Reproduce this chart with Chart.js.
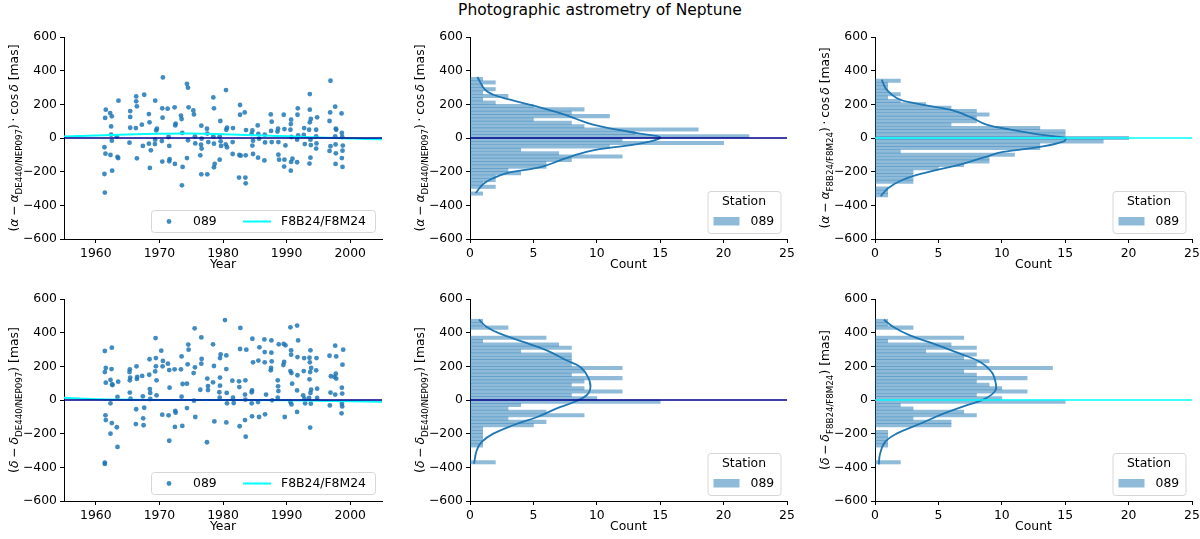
<!DOCTYPE html>
<html>
<head>
<meta charset="utf-8">
<title>Photographic astrometry of Neptune</title>
<script src="https://cdn.jsdelivr.net/npm/chart.js@4.4.1/dist/chart.umd.min.js"></script>
<style>
  body { margin: 0; background: #fff; width: 1200px; height: 539px; position: relative; overflow: hidden; }
  canvas { position: absolute; left: 0; top: 0; }
  #title { position: absolute; left: 0; top: 1px; width: 1200px; text-align: center;
           font: 15.5px "DejaVu Sans", sans-serif; line-height: 18px; color: #000; }
</style>
</head>
<body>
<div id="title">Photographic astrometry of Neptune</div>
<canvas id="raScatter" width="1200" height="539"></canvas>
<canvas id="raHist" width="1200" height="539"></canvas>
<canvas id="raF8Hist" width="1200" height="539"></canvas>
<canvas id="decScatter" width="1200" height="539"></canvas>
<canvas id="decHist" width="1200" height="539"></canvas>
<canvas id="decF8Hist" width="1200" height="539"></canvas>
<script>
// ---- data ----
const yearTicks = [1960, 1970, 1980, 1990, 2000]
const countTicks = [0, 5, 10, 15, 20, 25]
const masTicks = [-600, -400, -200, 0, 200, 400, 600]

// right ascension residuals, station 089
const raYears = [
  1961.57,1961.47,1961.36,1961.52,1961.36,1961.42, 1962.26,1962.52,1962.41,1962.41,1962.52,1962.31,1962.57,
  1963.57,1963.31,1963.41,1963.52, 1965.41,1965.41,1965.41,1965.30, 1966.35,1966.35,1966.46,1966.30,1966.46,
  1967.61,1967.24,1967.40, 1968.35,1968.45,1968.66,1968.50,1968.35, 1969.34,1969.61,1969.50,1969.34,1969.29,
  1970.55,1970.45,1970.50,1970.39,1970.45, 1971.29,1971.44,1971.55,1971.60,1971.55, 1972.39,1972.55,1972.49,1972.44,
  1973.39,1973.49,1973.60,1973.65,1973.54, 1974.33,1974.49,1974.59,1974.49,1974.33, 1975.33,1975.43,1975.59,1975.64,
  1976.59,1976.64,1976.43,1976.59,1976.54,1976.64, 1977.48,1977.53,1977.53,1977.69,
  1978.48,1978.58,1978.48,1978.58,1978.69,1978.58, 1979.58,1979.48,1979.63,1979.48,1979.69,
  1980.47,1980.52,1980.63,1980.63,1980.42, 1981.57,1981.52,1981.52, 1982.68,1982.68,1982.57,1982.52,1982.78,
  1983.41,1983.62,1983.57,1983.52,1983.57, 1984.62,1984.51,1984.72,1984.62,1984.72, 1985.46,1985.56,1985.51,1985.67,
  1986.56,1986.61,1986.51, 1987.51,1987.66,1987.56,1987.66, 1988.66,1988.56,1988.71,1988.82,1988.71,
  1989.55,1989.66,1989.66,1989.61,1989.82, 1990.71,1990.66,1990.60,1990.76,1990.92,1990.66,1990.71,
  1991.76,1991.71,1991.81,1991.65,1991.65, 1992.76,1992.70,1992.86,
  1993.65,1993.65,1993.81,1993.65,1993.54,1993.75,1993.81,1993.75,1993.60, 1994.80,1994.65,1994.65,1994.70,1994.65,
  1996.90,1996.85,1996.75,1996.90,1996.75, 1997.64,1997.74,1997.64,1997.70,1997.74,1997.70,1997.80,
  1998.64,1998.69,1998.74,1998.84,1998.79,1998.69,1998.79
]
const raResid = [
  168,119,-55,-93,-214,-324, 148,129,69,20,-16,-101,-194,
  222,10,-113,-119, 160,125,61,-28, 247,218,188,59,-121,
  257,79,-47, 142,93,-73,-178,-34, 222,55,45,-10,-36,
  360,176,121,-18,-140, 174,6,-47,-125,-138, 182,85,75,-154,
  133,113,30,-172,-281, 322,299,182,-14,-119, 164,140,10,-32,
  73,-4,-103,-216,-40,-63, 55,26,-216,-24,
  241,176,10,-34,-154,-174, 101,10,-20,-129,-47,
  285,49,61,-55,-38, 59,-24,-95, 196,138,-101,-235,-105,
  152,47,-103,-235,-269, 45,24,-16,-45,-95, 75,24,-117,-4,
  20,-26,-133, 140,97,42,-24, 55,38,-99,-129,-24,
  138,53,-129,-170,-44, 109,83,49,6,-123,-194,-142,
  176,138,16,-10,-144, 59,18,-36,
  261,168,113,93,49,-10,-42,-117,-152, 123,49,10,-32,-63,
  340,152,101,-49,-77, 186,55,10,-38,-91,-154,49,
  146,30,6,-45,-75,-119,-172
]

// declination residuals, station 089
const decYears = [
  1961.42,1961.57,1961.42,1961.57,1961.52,1961.57,1961.42,1961.42, 1962.52,1962.47,1962.31,1962.57,1962.62,1962.31,1962.52,1962.31,
  1963.52,1963.41,1963.31,1963.41, 1965.35,1965.30,1965.41,1965.35,1965.35,1965.46, 1966.40,1966.51,1966.46,1966.35,1966.30,
  1967.30,1967.40,1967.61,1967.45,1967.51, 1968.45,1968.40,1968.50,1968.56,1968.56, 1969.40,1969.45,1969.34,1969.45,1969.55,1969.55,
  1970.29,1970.55,1970.50,1970.45, 1971.34,1971.55,1971.60,1971.44,1971.55, 1972.39,1972.44,1972.49,1972.55,
  1973.49,1973.39,1973.65,1973.49,1973.60, 1974.54,1974.59,1974.44,1974.33,1974.33, 1975.54,1975.59,1975.38,1975.43,1975.64,
  1976.59,1976.64,1976.59,1976.43, 1977.53,1977.64,1977.64,1977.48, 1978.43,1978.58,1978.43,1978.64,
  1979.63,1979.53,1979.53,1979.53,1979.42,1979.48, 1980.31,1980.52,1980.52,1980.58,1980.63,1980.52, 1981.47,1981.57,1981.68,
  1982.73,1982.68,1982.52,1982.57,1982.62, 1983.67,1983.52,1983.46,1983.52,1983.46,1983.57,
  1984.62,1984.72,1984.57,1984.51,1984.51,1984.57, 1985.72,1985.56,1985.51,1985.67, 1986.51,1986.56,1986.56,1986.77,1986.61,
  1987.61,1987.61,1987.66,1987.56,1987.51,1987.72, 1988.77,1988.61,1988.66,1988.71,1988.61, 1989.55,1989.82,1989.50,1989.61,1989.71,
  1990.60,1990.71,1990.71,1990.60,1990.76,1990.87,1990.60,1990.76, 1991.65,1991.81,1991.71,1991.71,1991.65,1991.65,
  1992.76,1992.70,1992.60,1992.81,1992.91, 1993.75,1993.60,1993.65,1993.86,1993.70,1993.60,1993.86,1993.75,1993.54,1993.81,1993.70,
  1994.70,1994.65,1994.80,1994.80, 1996.75,1996.96,1996.90,1996.80, 1997.64,1997.80,1997.74,1997.80,1997.53,1997.64,
  1998.90,1998.79,1998.69,1998.74,1998.69,1998.74,1998.64
]
const decResid = [
  291,190,166,103,-91,-119,-372,-380, 311,184,119,93,89,-20,-137,-200,
  109,18,-162,-279, 182,166,133,117,44,8, 200,137,125,-55,-143,
  143,22,-46,-109,-150, 242,150,65,42,6, 368,249,170,200,117,28,
  293,232,200,-87, 216,178,73,-91,-242, 182,-160,-65,-75,
  259,182,95,20,-154, 329,299,212,97,-48, 426,194,160,-4,-101,
  372,244,216,61, 127,83,59,-251, 331,202,105,-127,
  271,249,133,85,46,14, 475,265,184,42,-20,-133, 115,14,-18,
  428,303,111,77,-156, 299,117,32,2,-119,-218,
  364,224,57,46,-20,-97, 313,234,-12,-101, 360,285,224,32,-85,
  354,281,230,190,176,-2, 331,117,81,53,14, 333,325,208,226,-101,
  432,295,269,172,160,97,-12,-26, 442,354,255,147,57,-71,
  249,172,28,8,-20, 295,251,224,190,166,123,61,42,12,-22,-164,
  249,176,67,12, 263,141,44,-32, 323,259,156,127,137,32,
  299,210,73,38,-22,-38,-79
]

// F8B24/F8M24 minus DE440/NEP097 along the observing span
const raOffsetYears = [1955, 1960, 1965, 1970, 1975, 1980, 1985, 1990, 1995, 2000, 2005]
const raOffset = [9, 15, 21, 25, 26, 22, 16, 10, 3, -3, -8]
const decOffsetYears = [1955, 1958, 1962, 1970, 1980, 1990, 1995, 2000, 2005]
const decOffset = [13, 8, 3, 0, 0, -2, -5, -8, -11]

// histograms (bin centre in mas, count)
const raBins = [350,330,310,290,270,250,230,210,190,170,150,130,110,90,70,50,30,10,
  -10,-30,-50,-70,-90,-110,-130,-150,-170,-190,-210,-230,-250,-270,-290,-310,-330]
const raCounts = [1,2,1,2,1,3,1,2,5,9,8,11,5,8,9,18,13,22,12,20,11,4,7,12,8,6,6,3,4,2,2,1,2,0,1]
const raF8Bins = [340,320,300,280,260,240,220,200,180,160,140,120,100,80,60,40,20,0,
  -20,-40,-60,-80,-100,-120,-140,-160,-180,-200,-220,-240,-260,-280,-300,-320,-340]
const raF8Counts = [2,1,1,1,2,1,2,4,6,8,9,8,8,6,13,15,15,20,18,13,13,2,11,9,9,7,5,3,3,3,3,0,1,1,1]
const decBins = [470,450,430,410,390,370,350,330,310,290,270,250,230,210,190,170,150,130,110,90,70,50,30,10,
  -10,-30,-50,-70,-90,-110,-130,-150,-170,-190,-210,-230,-250,-270,-290,-310,-330,-350,-370]
const decCounts = [1,1,3,0,0,6,1,7,8,4,8,8,8,8,12,9,8,12,9,8,9,12,8,10,15,4,3,6,9,3,6,5,1,1,1,1,1,1,0,0,0,0,2]
const decF8Counts = [1,1,3,0,0,7,1,6,8,4,8,7,9,8,14,7,8,12,8,9,10,12,8,10,15,2,3,7,8,3,6,6,0,1,1,1,1,1,0,0,0,0,2]

// kde curves (count, mas)
const raKdeCount = [0.58,1.18,1.84,3.16,5,7.1,8.4,9.7,11.6,13.4,15,13.9,11.6,9.7,8.4,7.1,5.8,4.5,2.9,1.84,1.05,0.45]
const raKdeMas = [362,287,257,228,192,148,113,79,50,26,4,-26,-53,-73,-99,-133,-168,-188,-208,-238,-273,-327]
const raF8KdeCount = [0.53,0.92,1.7,3.0,5.9,7.5,8.8,10.7,13.0,15,14.9,13.0,10.1,8.6,6.7,4.1,2.2,1.05,0.45]
const raF8KdeMas = [346,287,238,208,168,125,79,50,20,0,-20,-53,-83,-115,-158,-204,-248,-297,-346]
const decKdeCount = [0.71,1.32,2.37,4.2,6.05,7.6,8.7,9.3,9.5,9.2,8.2,6.8,5.3,3.4,1.84,0.92,0.53,0.32]
const decKdeMas = [477,434,394,345,295,236,196,137,77,28,-12,-51,-101,-150,-200,-249,-299,-378]
const decF8KdeCount = [0.71,1.45,2.76,4.6,6.7,8.3,9.2,9.5,9.5,8.7,7.2,5.4,3.55,1.7,0.8,0.4,0.3]
const decF8KdeMas = [477,434,384,335,275,226,166,107,57,8,-32,-81,-141,-200,-249,-319,-382]

// axis titles: [text, style]  i = italic, s = subscript, m = medium math space, t = thin math space
const raDeLabel = [['(', ''], ['α', 'i'], ['', 'm'], ['−', ''], ['', 'm'], ['α', 'i'], ['DE440/NEP097', 's'],
  [')', ''], ['', 'm'], ['·', ''], ['', 'm'], ['cos', ''], ['', 't'], ['δ', 'i'], [' [mas]', '']]
const raF8Label = [['(', ''], ['α', 'i'], ['', 'm'], ['−', ''], ['', 'm'], ['α', 'i'], ['F8B24/F8M24', 's'],
  [')', ''], ['', 'm'], ['·', ''], ['', 'm'], ['cos', ''], ['', 't'], ['δ', 'i'], [' [mas]', '']]
const decDeLabel = [['(', ''], ['δ', 'i'], ['', 'm'], ['−', ''], ['', 'm'], ['δ', 'i'], ['DE440/NEP097', 's'], [') [mas]', '']]
const decF8Label = [['(', ''], ['δ', 'i'], ['', 'm'], ['−', ''], ['', 'm'], ['δ', 'i'], ['F8B24/F8M24', 's'], [') [mas]', '']]

// ---- drawing ----
const FONT = '"DejaVu Sans", sans-serif'
const FS = 12.4
const W = 1200, H = 539
const Y_AXIS_W = 50, X_AXIS_H = 30
const BLUE = '#1f77b4'
const DOT = 'rgba(31,119,180,0.85)'
const BAR = 'rgba(31,119,180,0.5)'
const CYAN = '#00ffff'
const NAVY = '#00008b'

Chart.defaults.font.family = FONT
Chart.defaults.font.size = FS
Chart.defaults.color = '#000'

const fmt = v => v < 0 ? '\u2212' + Math.abs(v) : String(v)
const pts = (xs, ys) => xs.map((x, i) => ({ x, y: ys[i] }))

function axis(ticks, min, max, horizontal) {
  return {
    type: 'linear', min, max, offset: false,
    afterBuildTicks: s => { s.ticks = ticks.map(value => ({ value })) },
    afterFit: s => {
      if (horizontal) { s.height = X_AXIS_H; s.paddingLeft = 0; s.paddingRight = 0 }
      else { s.width = Y_AXIS_W; s.paddingTop = 0; s.paddingBottom = 0 }
    },
    grid: { drawOnChartArea: false, drawTicks: true, tickLength: 4, color: '#000', offset: false },
    border: { display: true, color: '#000', width: 1 },
    ticks: { padding: 3, color: '#000', autoSkip: false, maxRotation: 0, callback: fmt }
  }
}

function roundBox(ctx, x, y, w, h) {
  ctx.beginPath()
  ctx.roundRect(x + 0.5, y + 0.5, w, h, 3)
  ctx.fillStyle = 'rgba(255,255,255,0.8)'
  ctx.fill()
  ctx.strokeStyle = '#d6d6d6'
  ctx.lineWidth = 1
  ctx.stroke()
}

function drawYTitle(ctx, parts, baseX, cy) {
  const fontOf = p => (p[1] === 'i' ? 'italic ' : '') + (p[1] === 's' ? FS * 0.7 : FS) + 'px ' + FONT
  const widthOf = p => {
    if (p[1] === 'm') return FS * 0.222
    if (p[1] === 't') return FS * 0.167
    ctx.font = fontOf(p)
    return ctx.measureText(p[0]).width
  }
  const widths = parts.map(widthOf)
  const total = widths.reduce((s, w) => s + w, 0)
  ctx.save()
  ctx.translate(baseX, cy)
  ctx.rotate(-Math.PI / 2)
  ctx.textAlign = 'left'
  ctx.textBaseline = 'alphabetic'
  ctx.fillStyle = '#000'
  let x = -total / 2
  parts.forEach((p, i) => {
    if (p[0]) {
      ctx.font = fontOf(p)
      ctx.fillText(p[0], x, p[1] === 's' ? FS * 0.3 : 0)
    }
    x += widths[i]
  })
  ctx.restore()
}

const panelText = {
  id: 'panelText',
  afterDraw(chart, args, opts) {
    const { ctx, chartArea: a } = chart
    const ds = chart.data.datasets
    ctx.save()
    ctx.fillStyle = '#000'
    ctx.font = FS + 'px ' + FONT
    ctx.textAlign = 'center'
    ctx.textBaseline = 'middle'
    ctx.fillText(opts.xTitle, (a.left + a.right) / 2, a.bottom + 26)
    drawYTitle(ctx, opts.yTitle, a.left - 46, (a.top + a.bottom) / 2)

    if (opts.legend === 'scatter') {
      const w = 224, h = 22
      const x = a.right - 7 - w, y = a.bottom - 7 - h, cy = y + h / 2 + 0.5
      roundBox(ctx, x, y, w, h)
      ctx.fillStyle = ds[0].pointBackgroundColor
      ctx.beginPath(); ctx.arc(x + 18, cy, 2.4, 0, Math.PI * 2); ctx.fill()
      ctx.strokeStyle = ds[1].borderColor; ctx.lineWidth = 2
      ctx.beginPath(); ctx.moveTo(x + 92, cy); ctx.lineTo(x + 120, cy); ctx.stroke()
      ctx.fillStyle = '#000'; ctx.textAlign = 'left'; ctx.font = FS + 'px ' + FONT
      ctx.fillText(ds[0].label, x + 42, cy)
      ctx.fillText(ds[1].label, x + 130, cy)
    } else {
      const w = 73, h = 42
      const x = a.right - 6.5 - w, y = a.bottom - 6 - h
      roundBox(ctx, x, y, w, h)
      ctx.fillStyle = '#000'; ctx.font = FS + 'px ' + FONT
      ctx.textAlign = 'center'
      ctx.fillText(opts.legendTitle, x + w / 2, y + 11)
      ctx.fillStyle = ds[0].backgroundColor
      ctx.fillRect(x + 6, y + 26, 26, 8.5)
      ctx.fillStyle = '#000'; ctx.textAlign = 'left'
      ctx.fillText(ds[0].label, x + 43, y + 30.5)
    }
    ctx.restore()
  }
}

function padFor(area) {
  return { left: area.left - Y_AXIS_W, top: area.top, right: W - area.right, bottom: H - area.bottom - X_AXIS_H }
}

function scatterPanel(id, area, years, resid, offYears, offset, yTitle) {
  return new Chart(document.getElementById(id), {
    type: 'scatter',
    data: {
      datasets: [
        { label: '089', data: pts(years, resid), pointRadius: 2.4, pointBackgroundColor: DOT, pointBorderWidth: 0, order: 3 },
        { type: 'line', label: 'F8B24/F8M24', data: pts(offYears, offset), borderColor: CYAN, borderWidth: 2,
          pointRadius: 0, tension: 0.4, fill: false, order: 2 },
        { type: 'line', label: 'DE440/NEP097', data: pts([1955, 2005], [0, 0]), borderColor: NAVY, borderWidth: 1.6,
          pointRadius: 0, fill: false, order: 1 }
      ]
    },
    options: {
      responsive: false, animation: false, devicePixelRatio: 1,
      layout: { padding: padFor(area) },
      plugins: { legend: { display: false }, tooltip: { enabled: false },
        panelText: { xTitle: 'Year', yTitle, legend: 'scatter' } },
      scales: { x: axis(yearTicks, 1955, 2005, true), y: axis(masTicks, -600, 600, false) }
    },
    plugins: [panelText]
  })
}

function histPanel(id, area, bins, counts, kdeCount, kdeMas, zeroColor, yTitle) {
  return new Chart(document.getElementById(id), {
    type: 'bar',
    data: {
      datasets: [
        { label: '089', data: pts(counts, bins), backgroundColor: BAR, borderWidth: 0,
          barPercentage: 1, categoryPercentage: 1, order: 3 },
        { type: 'line', label: 'kde', data: pts(kdeCount, kdeMas), borderColor: BLUE, borderWidth: 1.8,
          pointRadius: 0, tension: 0.4, fill: false, order: 2 },
        { type: 'line', label: 'zero', data: pts([0, 25], [0, 0]), borderColor: zeroColor, borderWidth: 1.6,
          pointRadius: 0, fill: false, order: 1 }
      ]
    },
    options: {
      indexAxis: 'y',
      responsive: false, animation: false, devicePixelRatio: 1,
      layout: { padding: padFor(area) },
      plugins: { legend: { display: false }, tooltip: { enabled: false },
        panelText: { xTitle: 'Count', yTitle, legend: 'hist', legendTitle: 'Station' } },
      scales: { x: axis(countTicks, 0, 25, true), y: axis(masTicks, -600, 600, false) }
    },
    plugins: [panelText]
  })
}

const topRow = { top: 37, bottom: 239 }
const botRow = { top: 299, bottom: 501 }
const colL = { left: 64, right: 382 }
const colM = { left: 470, right: 787 }
const colR = { left: 875, right: 1192 }

scatterPanel('raScatter', { ...colL, ...topRow }, raYears, raResid, raOffsetYears, raOffset, raDeLabel)
histPanel('raHist', { ...colM, ...topRow }, raBins, raCounts, raKdeCount, raKdeMas, NAVY, raDeLabel)
histPanel('raF8Hist', { ...colR, ...topRow }, raF8Bins, raF8Counts, raF8KdeCount, raF8KdeMas, CYAN, raF8Label)
scatterPanel('decScatter', { ...colL, ...botRow }, decYears, decResid, decOffsetYears, decOffset, decDeLabel)
histPanel('decHist', { ...colM, ...botRow }, decBins, decCounts, decKdeCount, decKdeMas, NAVY, decDeLabel)
histPanel('decF8Hist', { ...colR, ...botRow }, decBins, decF8Counts, decF8KdeCount, decF8KdeMas, CYAN, decF8Label)
</script>
</body>
</html>
